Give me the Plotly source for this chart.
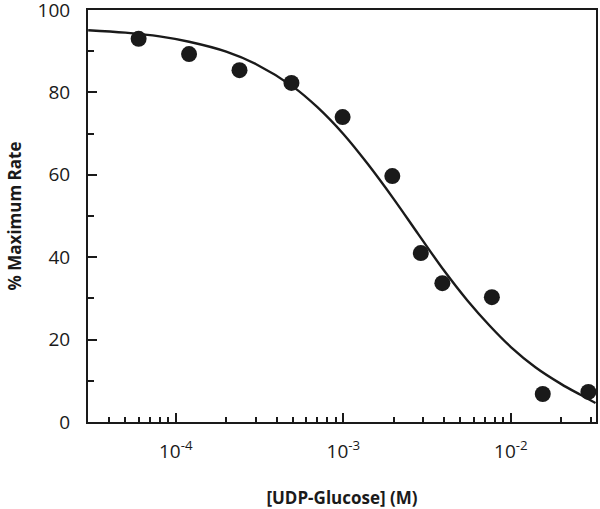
import plotly.graph_objects as go

# measured points
udp_glucose = [6.0e-5, 1.2e-4, 2.4e-4, 4.9e-4, 9.9e-4, 1.96e-3, 2.9e-3, 3.9e-3, 7.7e-3, 1.55e-2, 2.9e-2]
pct_rate = [93.0, 89.3, 85.4, 82.3, 74.0, 59.7, 41.0, 33.7, 30.3, 6.8, 7.3]

# fitted curve
curve_x = [3e-5, 5e-5, 8e-5, 1.2e-4, 2e-4, 3e-4, 5e-4, 7e-4, 1e-3, 1.4e-3,
           2e-3, 2.8e-3, 4e-3, 5.5e-3, 7.5e-3, 1e-2, 1.4e-2, 2e-2, 2.6e-2, 3.2e-2]
curve_y = [95.1, 94.5, 93.6, 92.3, 89.9, 86.9, 81.4, 76.4, 69.9, 62.6,
           54.1, 45.6, 36.7, 29.5, 23.3, 18.2, 13.3, 9.2, 6.6, 4.6]

x_major = [1e-4, 1e-3, 1e-2]
x_minor = [m * d for d in (1e-5, 1e-4, 1e-3, 1e-2) for m in range(2, 10) if 3.5e-5 < m * d < 3.2e-2]
y_major = [0, 20, 40, 60, 80, 100]
y_minor = [10, 30, 50, 70, 90]

ink = '#1a1a1a'
font = 'Open Sans, Lato, sans-serif'

fig = go.Figure()

fig.add_trace(go.Scatter(
    x=curve_x, y=curve_y, mode='lines',
    line=dict(color=ink, width=2.4, shape='spline', smoothing=1),
    hoverinfo='skip', showlegend=False
))

fig.add_trace(go.Scatter(
    x=udp_glucose, y=pct_rate, mode='markers',
    marker=dict(color=ink, size=16), cliponaxis=False, showlegend=False
))

fig.update_layout(
    width=600, height=509,
    margin=dict(l=88, r=4, t=10, b=87),
    plot_bgcolor='white', paper_bgcolor='white',
    font=dict(family=font, color=ink),
)

fig.update_xaxes(
    type='log', range=[-4.524, -1.492], automargin=False,
    tickmode='array', tickvals=x_major,
    ticktext=['10<sup>-4</sup>', '10<sup>-3</sup>', '10<sup>-2</sup>'],
    ticks='inside', ticklen=9, tickwidth=1.5, tickcolor=ink,
    minor=dict(tickmode='array', tickvals=x_minor, ticks='inside', ticklen=5, tickwidth=1.5, tickcolor=ink),
    showline=True, linecolor=ink, linewidth=2, mirror=True,
    showgrid=False, zeroline=False,
    tickfont=dict(size=19), ticklabelstandoff=11, ticklabeloverflow='allow',
    title=dict(text='<b>[UDP-Glucose] (M)</b>', font=dict(size=17), standoff=30),
)

fig.update_yaxes(
    range=[0, 100], automargin=False,
    tickmode='array', tickvals=y_major,
    ticks='inside', ticklen=9, tickwidth=1.5, tickcolor=ink,
    minor=dict(tickmode='array', tickvals=y_minor, ticks='inside', ticklen=6, tickwidth=1.5, tickcolor=ink),
    showline=True, linecolor=ink, linewidth=2, mirror=True,
    showgrid=False, zeroline=False,
    tickfont=dict(size=19), ticklabelstandoff=12, ticklabeloverflow='allow',
    title=dict(text='<b>% Maximum Rate</b>', font=dict(size=17), standoff=12),
)

# drop the default 8px body margin so the figure sits at the page corner
fig.write_html("out.html", config={'displayModeBar': False},
               post_script="document.body.style.margin='0';")
